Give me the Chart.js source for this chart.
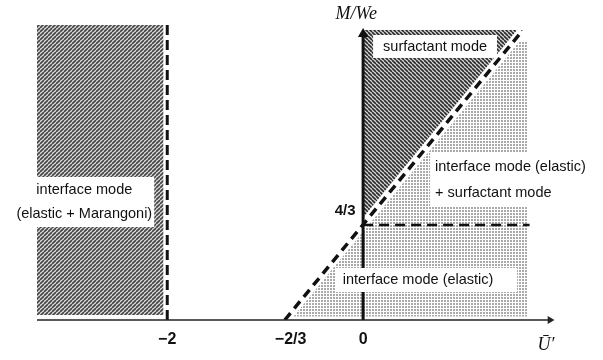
<!DOCTYPE html>
<html>
<head>
<meta charset="utf-8">
<script src="https://cdn.jsdelivr.net/npm/chart.js@4.4.1/dist/chart.umd.min.js"></script>
<style>
  html, body { margin: 0; padding: 0; background: #ffffff; }
  canvas { display: block; }
</style>
</head>
<body>
<canvas id="c" width="603" height="360"></canvas>
<script>
// ---- data (schematic regime map) ----
const xTickValues = [-2, -0.74, 0];
const xTickLabels = ['\u22122', '\u22122/3', '0'];

const marangoniRegion = [
  { x: -3.33, y: 0.07 }, { x: -2.04, y: 0.07 }, { x: -2.04, y: 4.14 }, { x: -3.33, y: 4.14 }, { x: -3.33, y: 0.07 }
];
const surfactantRegion = [
  { x: 0, y: 4.07 }, { x: 1.63, y: 4.07 }, { x: 0, y: 1.333 }, { x: 0, y: 4.07 }
];
const elasticRegion = [
  { x: -0.8, y: 0.05 }, { x: 1.56, y: 3.90 }, { x: 1.673, y: 3.90 }, { x: 1.673, y: 0.05 }, { x: -0.8, y: 0.05 }
];
const diagonalBoundary = [{ x: -0.8, y: 0 }, { x: 1.62, y: 4.05 }];
const marangoniBoundary = [{ x: -2, y: 0 }, { x: -2, y: 4.14 }];
const thresholdLine = [{ x: 0, y: 4 / 3 }, { x: 1.70, y: 4 / 3 }];
const xAxisLine = [{ x: -3.33, y: 0 }, { x: 1.908, y: 0 }];
const yAxisLine = [{ x: 0, y: 0 }, { x: 0, y: 4.014 }];

const regionLabels = [
  { text: 'interface mode', x: -2.847, y: 1.825, align: 'center' },
  { text: '(elastic + Marangoni)', x: -2.847, y: 1.488, align: 'center' },
  { text: 'surfactant mode', x: 0.735, y: 3.832, align: 'center' },
  { text: 'interface mode (elastic)', x: 0.735, y: 2.147, align: 'left' },
  { text: '+ surfactant mode', x: 0.735, y: 1.782, align: 'left' },
  { text: 'interface mode (elastic)', x: 0.561, y: 0.561, align: 'center' }
];
const labelBoxes = [
  { x0: -3.75, x1: -2.133, y0: 2.007, y1: 1.305 },
  { x0: 0.102, x1: 1.367, y0: 4.0, y1: 3.677 },
  { x0: -0.286, x1: 1.571, y0: 0.73, y1: 0.393 },
  { x0: 0.684, x1: 2.418, y0: 2.344, y1: 1.6 }
];
const axisTexts = [
  { text: '4/3', x: -0.184, y: 1.53, kind: 'tick' },
  { text: 'M/We', x: -0.07, y: 4.295, kind: 'title' },
  { text: '\u016A\u2032', x: 1.867, y: -0.35, kind: 'title' }
];

// ---- fill patterns ----
function hatch(dir, line, bg, size, lw) {
  const c = document.createElement('canvas');
  c.width = c.height = size;
  const g = c.getContext('2d');
  g.fillStyle = bg; g.fillRect(0, 0, size, size);
  g.strokeStyle = line; g.lineWidth = lw;
  g.beginPath();
  for (let k = -1; k <= 1; k++) {
    if (dir > 0) { g.moveTo(k * size, size); g.lineTo(k * size + size, 0); }
    else { g.moveTo(k * size, 0); g.lineTo(k * size + size, size); }
  }
  g.stroke();
  return g.createPattern(c, 'repeat');
}
function dots() {
  const c = document.createElement('canvas');
  c.width = c.height = 3;
  const g = c.getContext('2d');
  g.fillStyle = '#ffffff'; g.fillRect(0, 0, 3, 3);
  g.fillStyle = '#aaaaaa'; g.fillRect(0, 0, 2, 2);
  return g.createPattern(c, 'repeat');
}

const sansFont = "'Liberation Sans', Arial, sans-serif";
const serifFont = "'Liberation Serif', 'DejaVu Serif', serif";

function region(data, pattern) {
  return { data, fill: 'shape', backgroundColor: pattern, borderWidth: 0, pointRadius: 0, order: 20 };
}

const labelPlugin = {
  id: 'labels',
  afterDatasetsDraw(chart) {
    const { ctx, scales: { x, y } } = chart;
    ctx.save();
    ctx.fillStyle = '#ffffff';
    labelBoxes.forEach(b => {
      const px0 = x.getPixelForValue(b.x0), px1 = x.getPixelForValue(b.x1);
      const py0 = y.getPixelForValue(b.y0), py1 = y.getPixelForValue(b.y1);
      ctx.fillRect(px0, py0, px1 - px0, py1 - py0);
    });
    ctx.fillStyle = '#111111';
    ctx.textBaseline = 'middle';
    ctx.font = '14.5px ' + sansFont;
    regionLabels.forEach(l => {
      ctx.textAlign = l.align;
      ctx.fillText(l.text, x.getPixelForValue(l.x), y.getPixelForValue(l.y));
    });
    ctx.textAlign = 'center';
    axisTexts.forEach(t => {
      ctx.font = t.kind === 'tick' ? 'bold 15px ' + sansFont : 'italic 18px ' + serifFont;
      ctx.fillText(t.text, x.getPixelForValue(t.x), y.getPixelForValue(t.y));
    });
    ctx.restore();
  }
};

new Chart(document.getElementById('c'), {
  type: 'line',
  data: {
    datasets: [
      region(marangoniRegion, hatch(1, '#444444', '#dcdcdc', 4, 1.6)),
      region(surfactantRegion, hatch(-1, '#2a2a2a', '#d8d8d8', 4, 1.6)),
      region(elasticRegion, dots()),
      { data: diagonalBoundary, borderColor: '#ffffff', borderWidth: 9, pointRadius: 0, order: 8 },
      { data: diagonalBoundary, borderColor: '#111111', borderWidth: 3.5, borderDash: [9, 6], pointRadius: 0, order: 6 },
      { data: marangoniBoundary, borderColor: '#111111', borderWidth: 3, borderDash: [10, 5], pointRadius: 0, order: 6 },
      { data: thresholdLine, borderColor: '#111111', borderWidth: 2.5, borderDash: [10, 6], pointRadius: 0, order: 6 },
      { data: xAxisLine, borderColor: '#222222', borderWidth: 1.6, pointRadius: [0, 4.5], pointStyle: 'triangle',
        pointRotation: 90, pointBackgroundColor: '#222222', pointBorderWidth: 0, clip: false, order: 2 },
      { data: yAxisLine, borderColor: '#111111', borderWidth: 3, pointRadius: [0, 6], pointStyle: 'triangle',
        pointRotation: 0, pointBackgroundColor: '#111111', pointBorderWidth: 0, clip: false, order: 2 }
    ]
  },
  options: {
    responsive: false,
    devicePixelRatio: 1,
    animation: false,
    layout: { padding: { left: 37, right: 46, top: 20, bottom: 0 } },
    elements: { line: { tension: 0 } },
    plugins: { legend: { display: false }, tooltip: { enabled: false } },
    scales: {
      x: {
        type: 'linear', min: -3.33, max: 1.98,
        grid: { display: false, drawTicks: false },
        border: { display: false },
        afterBuildTicks: s => { s.ticks = xTickValues.map(v => ({ value: v })); },
        afterFit: s => { s.height = 40; },
        ticks: {
          autoSkip: false, maxRotation: 0, padding: 10, color: '#111111',
          font: { family: sansFont, size: 16, weight: 'bold' },
          callback: (v, i) => xTickLabels[i]
        }
      },
      y: { type: 'linear', min: 0, max: 4.21, display: false }
    }
  },
  plugins: [labelPlugin]
});
</script>
</body>
</html>
